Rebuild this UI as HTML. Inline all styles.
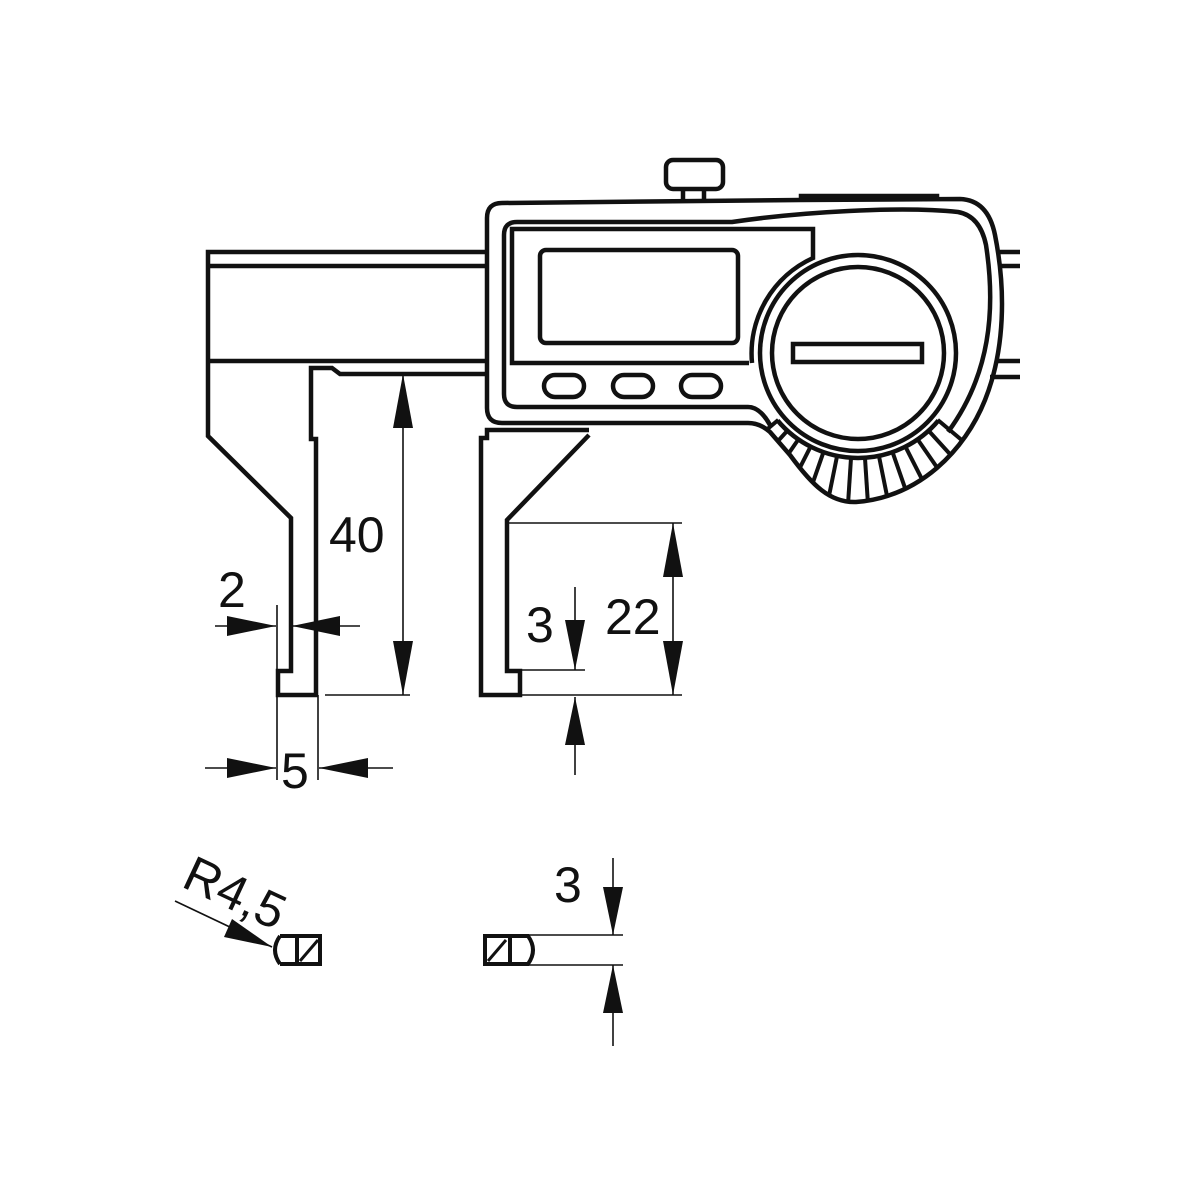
<!DOCTYPE html>
<html><head><meta charset="utf-8"><style>html,body{margin:0;padding:0;background:#fff}svg{display:block}text{font-family:"Liberation Sans",sans-serif;fill:#111}</style></head>
<body>
<svg width="1200" height="1200" viewBox="0 0 1200 1200" xmlns="http://www.w3.org/2000/svg">
<defs>
<clipPath id="kc"><path d="M752,423 L770,432 L790,455 C812,485 830,503 856,502 C920,497 965,450 985,400 L900,330 L800,330 Z"/></clipPath>
</defs>
<g fill="none" stroke="#111" stroke-width="4.5" stroke-linejoin="miter">
<path d="M487,252 L208,252 L208,436 L291,518 L291,671 L278,671 L278,695 L316,695 L316,439 L311,439 L311,368 L332,368 L340,374 L485,374"/>
<line x1="208" y1="266" x2="487" y2="266"/>
<line x1="208" y1="361" x2="487" y2="361"/>
<line x1="1000" y1="252" x2="1020" y2="252"/>
<line x1="998" y1="266" x2="1020" y2="266"/>
<line x1="995" y1="361" x2="1020" y2="361"/>
<line x1="990" y1="377" x2="1020" y2="377"/>
<path d="M589,430 L487,430 L487,438 L481,438 L481,695 L520,695 L520,671 L507,671 L507,520 L589,435"/>
<path d="M502,203 L800,200 L960,199 Q988,200 995,235 C1006,290 1005,350 985,400 C965,450 920,497 856,502 C830,503 812,485 790,455 L770,432 Q760,423 748,423 L502,423 Q487,423 487,408 L487,218 Q487,203 502,203 Z"/>
<path d="M770,425 Q760,407 748,407 L517,407 Q504,407 504,394 L504,235 Q504,222 517,222 L732,222 C800,212 900,206 958,212 Q980,216 986,245 C996,310 990,375 948,432"/>
<path d="M749,363 L512,363 L512,229 L813,229 L813,258 A105,105 0 0 0 752,363"/>
<rect x="540" y="250" width="198" height="93" rx="6"/>
<rect x="544" y="375" width="40" height="22" rx="11"/>
<rect x="613" y="375" width="40" height="22" rx="11"/>
<rect x="681" y="375" width="40" height="22" rx="11"/>
<circle cx="858" cy="353" r="98"/>
<circle cx="858" cy="353" r="86"/>
<rect x="793" y="344" width="129" height="18"/>
<path d="M777.6,420.5 A105,105 0 0 0 938.4,420.5"/>
<rect x="666" y="160" width="57" height="29" rx="7"/>
<path d="M683,189 L683,202 M704,189 L704,201"/>
<path d="M801,199 L801,196 L937,196 L937,199"/>
</g>
<g stroke="#111" stroke-width="4" clip-path="url(#kc)">
<line x1="937.7" y1="419.9" x2="988.2" y2="462.3"/>
<line x1="928" y1="430" x2="972.4" y2="478.8"/>
<line x1="917.1" y1="438.6" x2="954.6" y2="492.9"/>
<line x1="905" y1="445.8" x2="934.9" y2="504.6"/>
<line x1="892.2" y1="451.2" x2="913.9" y2="513.5"/>
<line x1="878.7" y1="454.9" x2="891.8" y2="519.6"/>
<line x1="864.9" y1="456.8" x2="869.2" y2="522.7"/>
<line x1="851.1" y1="456.8" x2="846.8" y2="522.7"/>
<line x1="837.3" y1="454.9" x2="824.2" y2="519.6"/>
<line x1="823.8" y1="451.2" x2="802.1" y2="513.5"/>
<line x1="811" y1="445.8" x2="781.1" y2="504.6"/>
<line x1="798.9" y1="438.6" x2="761.4" y2="492.9"/>
<line x1="788" y1="430" x2="743.6" y2="478.8"/>
<line x1="778.3" y1="419.9" x2="727.8" y2="462.3"/>
</g>
<g stroke="#111" stroke-width="1.6" fill="none">
<line x1="403" y1="374" x2="403" y2="695"/>
<line x1="325" y1="695" x2="410" y2="695"/>
<line x1="215" y1="626" x2="276" y2="626"/>
<line x1="277" y1="605" x2="277" y2="780"/>
<line x1="318" y1="695" x2="318" y2="780"/>
<line x1="292" y1="626" x2="360" y2="626"/>
<line x1="205" y1="768" x2="276" y2="768"/>
<line x1="319" y1="768" x2="393" y2="768"/>
<line x1="509" y1="523" x2="682" y2="523"/>
<line x1="522" y1="695" x2="682" y2="695"/>
<line x1="509" y1="670" x2="585" y2="670"/>
<line x1="673" y1="523" x2="673" y2="695"/>
<line x1="575" y1="587" x2="575" y2="670"/>
<line x1="575" y1="697" x2="575" y2="775"/>
<line x1="175" y1="901" x2="272" y2="947"/>
<line x1="528" y1="935" x2="623" y2="935"/>
<line x1="528" y1="965" x2="623" y2="965"/>
<line x1="613" y1="858" x2="613" y2="935"/>
<line x1="613" y1="965" x2="613" y2="1046"/>
</g>
<g fill="#111">
<polygon points="403,374 393,428 413,428"/>
<polygon points="403,695 393,641 413,641"/>
<polygon points="276,626 227,616 227,636"/>
<polygon points="292,626 340,616 340,636"/>
<polygon points="276,768 227,758 227,778"/>
<polygon points="319,768 368,758 368,778"/>
<polygon points="673,523 663,577 683,577"/>
<polygon points="673,695 663,641 683,641"/>
<polygon points="575,670 565,620 585,620"/>
<polygon points="575,697 565,745 585,745"/>
<polygon points="272,947 224,937 232,919"/>
<polygon points="613,935 603,887 623,887"/>
<polygon points="613,965 603,1013 623,1013"/>
</g>
<g fill="none" stroke="#111" stroke-width="4">
<path d="M295,936 L320,936 L320,964 L295,964 M280,936 L295,936 M280,964 L295,964 M280,936 Q270,950 280,964"/>
<line x1="297" y1="936" x2="297" y2="964"/>
<line x1="300" y1="961" x2="318" y2="940" stroke-width="3"/>
<path d="M510,936 L485,936 L485,964 L510,964 M510,936 L528,936 Q538,950 528,964 L510,964"/>
<line x1="510" y1="936" x2="510" y2="964"/>
<line x1="488" y1="961" x2="506" y2="940" stroke-width="3"/>
</g>
<g font-size="50">
<text x="329" y="552">40</text>
<text x="218" y="607">2</text>
<text x="281" y="788">5</text>
<text x="526" y="642">3</text>
<text x="605" y="634">22</text>
<text x="554" y="902">3</text>
<text x="0" y="0" transform="translate(180,886) rotate(25)">R4,5</text>
</g>
</svg>
</body></html>
